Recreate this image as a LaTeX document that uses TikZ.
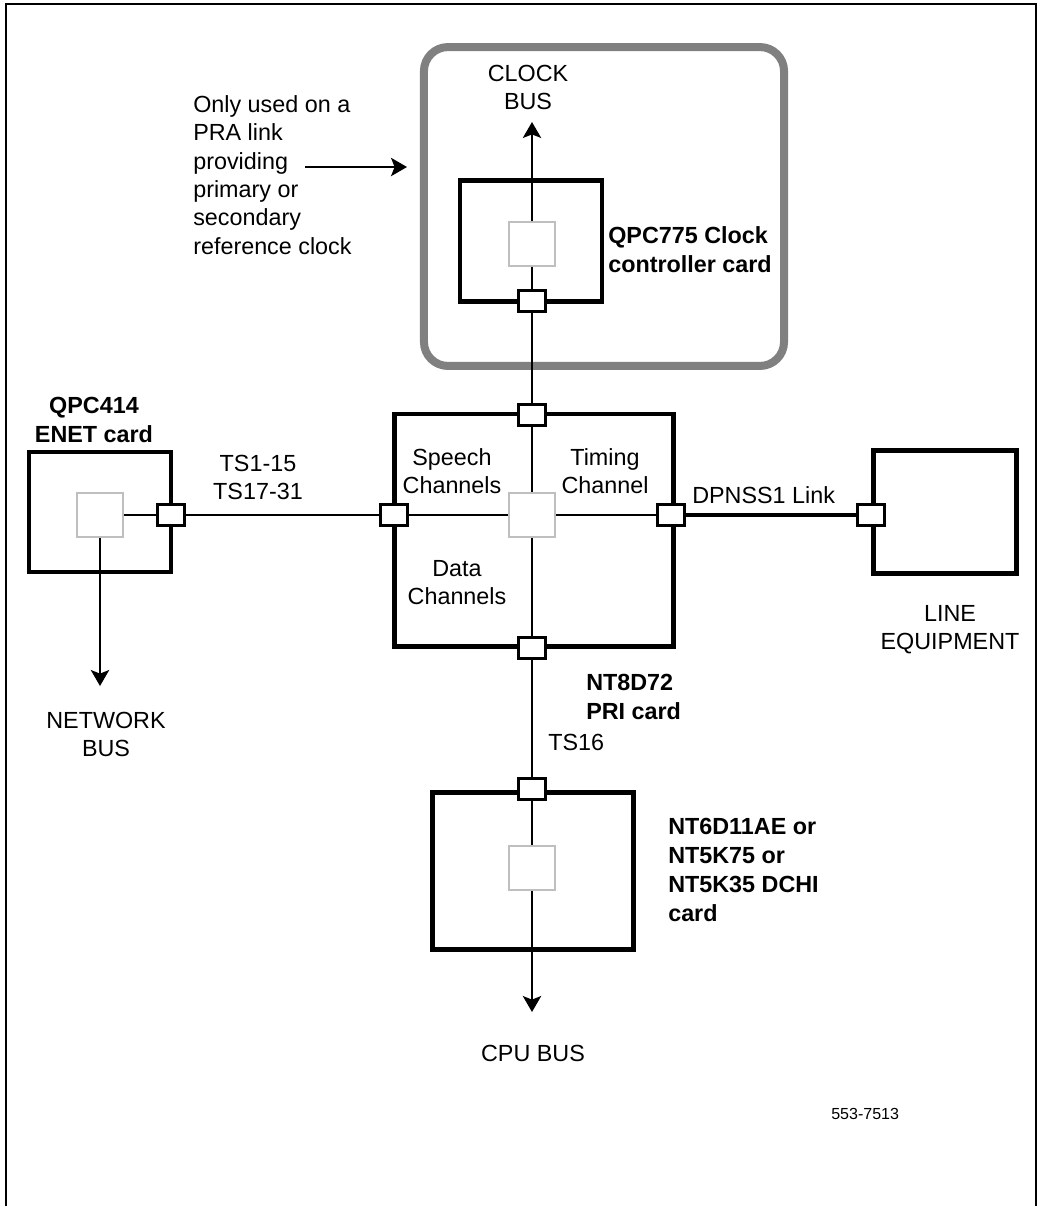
\documentclass[tikz,border=0pt]{standalone}
\usepackage{fontspec}
\setmainfont{Liberation Sans}
\usetikzlibrary{arrows.meta}

\begin{document}
\begin{tikzpicture}[x=0.025cm, y=-0.025cm,
    card/.style={draw, rectangle, line width=3.5pt, inner sep=0pt},
    core/.style={draw=black!25, fill=white, rectangle, line width=0.9pt, minimum width=1.15cm, minimum height=1.1cm, inner sep=0pt},
    port/.style={draw, fill=white, rectangle, line width=1.8pt, minimum width=0.68cm, minimum height=0.53cm, inner sep=0pt},
    lbl/.style={inner sep=0pt, align=center, font=\fontsize{16.6}{20}\selectfont},
    blbl/.style={inner sep=0pt, align=left, font=\fontsize{16.6}{20.7}\selectfont\bfseries},
    bus/.style={line width=1.1pt},
    busarrow/.style={line width=1.1pt, -{Stealth[length=0.4cm, width=0.46cm, inset=0.09cm]}}]
        \useasboundingbox (0,0) rectangle (1040,1206);
        \draw[line width=1.4pt] (6,1206) -- (6,4) -- (1036,4) -- (1036,1206);

        % Nodes
        \node[draw=gray, line width=5.7pt, rounded corners=0.6cm, minimum width=9cm, minimum height=7.97cm] (clkgrp) at (604,206.5) {};
        \node[card, minimum width=3.55cm, minimum height=3.01cm] (clkcard) at (531,241) {};
        \node[core] (clkcore) at (532,244) {};
        \node[port] (clkport) at (532,301) {};

        \node[card, minimum width=3.55cm, minimum height=3cm] (enetcard) at (100,512) {};
        \node[core] (enetcore) at (100,515) {};
        \node[port] (enetport) at (171,515) {};

        \node[card, minimum width=6.96cm, minimum height=5.8cm] (pricard) at (534,530) {};
        \node[core] (pricore) at (532,515) {};
        \node[port] (pritop) at (532,415) {};
        \node[port] (pribot) at (532,648) {};
        \node[port] (prileft) at (394,515) {};
        \node[port] (priright) at (671,515) {};

        \node[card, minimum width=3.59cm, minimum height=3.06cm] (linecard) at (945,512) {};
        \node[port] (lineport) at (871,515) {};

        \node[card, minimum width=5.04cm, minimum height=3.94cm] (dchcard) at (533,871) {};
        \node[core] (dchcore) at (532,868) {};
        \node[port] (dchtop) at (532,789) {};

        \coordinate (clkbus) at (532,122);
        \coordinate (netbus) at (100,686);
        \coordinate (cpubus) at (532,1012);
        \coordinate (notefrom) at (305,167);
        \coordinate (noteto) at (407,167);

        % Labels
        \node[lbl, anchor=north] (clkbuslbl) at (528,65) {CLOCK\\BUS};
        \node[lbl, anchor=north west, align=left, font=\fontsize{16.6}{20.2}\selectfont] (note) at (193,95) {Only used on a\\PRA link\\providing\\primary or\\secondary\\reference clock};
        \node[blbl, anchor=north west] (clklbl) at (608,226) {QPC775 Clock\\controller card};
        \node[blbl, anchor=north, align=center] (enetlbl) at (94,397) {QPC414\\ENET card};
        \node[lbl, anchor=north] (tslbl) at (258,455) {TS1-15\\TS17-31};
        \node[lbl, anchor=north] (speechlbl) at (452,448) {Speech\\Channels};
        \node[lbl, anchor=north] (timinglbl) at (605,448) {Timing\\Channel};
        \node[lbl, anchor=north] (datalbl) at (457,560) {Data\\Channels};
        \node[lbl, anchor=north west] (dpnsslbl) at (692,486) {DPNSS1 Link};
        \node[lbl, anchor=north] (linelbl) at (950,605) {LINE\\EQUIPMENT};
        \node[lbl, anchor=north] (netlbl) at (106,712) {NETWORK\\BUS};
        \node[blbl, anchor=north west] (prilbl) at (586,674) {NT8D72\\PRI card};
        \node[lbl, anchor=north west] (ts16lbl) at (548,734) {TS16};
        \node[blbl, anchor=north west] (dchlbl) at (668,818) {NT6D11AE or\\NT5K75 or\\NT5K35 DCHI\\card};
        \node[lbl, anchor=north] (cpulbl) at (533,1045) {CPU BUS};
        \node[lbl, anchor=north west, font=\fontsize{11.4}{14}\selectfont] (figno) at (831,1108.5) {553-7513};

        % Arrows
        \draw[busarrow] (clkcore) -- (clkbus);
        \draw[bus] (clkcore) -- (clkport);
        \draw[bus] (clkport) -- (pritop);
        \draw[bus] (pritop) -- (pricore);
        \draw[bus] (pricore) -- (pribot);
        \draw[bus] (pribot) -- (dchtop);
        \draw[bus] (dchtop) -- (dchcore);
        \draw[busarrow] (dchcore) -- (cpubus);

        \draw[bus] (enetcore) -- (enetport);
        \draw[bus] (enetport) -- (prileft);
        \draw[bus] (prileft) -- (pricore);
        \draw[bus] (pricore) -- (priright);
        \draw[line width=3.2pt] (priright) -- (lineport);
        \draw[busarrow] (enetcore) -- (netbus);

        \draw[busarrow, line width=1pt] (notefrom) -- (noteto);
\end{tikzpicture}
\end{document}
